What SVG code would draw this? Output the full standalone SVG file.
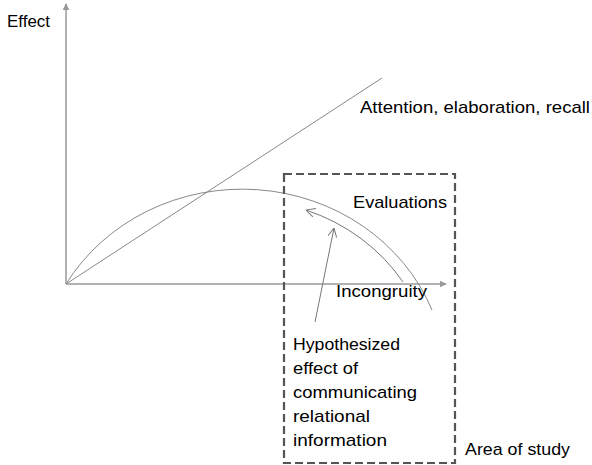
<svg xmlns="http://www.w3.org/2000/svg" width="592" height="465" viewBox="0 0 592 465">
  <style>
    .lbl { font-family: "Liberation Sans", Arial, sans-serif; font-size: 17px; fill: #000; }
    .axis { stroke: #999; stroke-width: 1.5; fill: none; }
    .curve { stroke: #888; stroke-width: 1; fill: none; }
    .thin { stroke: #777; stroke-width: 1; fill: none; }
    .zone { stroke: #555; stroke-width: 2.2; fill: none; stroke-dasharray: 8 4; }
  </style>
  <defs>
    <marker id="axisHead" viewBox="0 0 10 10" refX="9" refY="5" markerWidth="7" markerHeight="7" markerUnits="userSpaceOnUse" orient="auto">
      <path d="M0,0 L10,5 L0,10 Z" fill="#999"/>
    </marker>
    <marker id="openHead" viewBox="0 0 10 10" refX="10" refY="5" markerWidth="9" markerHeight="9" markerUnits="userSpaceOnUse" orient="auto">
      <path d="M0,0 L10,5 L0,10" fill="none" stroke="#777" stroke-width="1.1"/>
    </marker>
  </defs>

  <g id="connectors">
    <!-- axes -->
    <line class="axis" x1="66" y1="284" x2="66" y2="4" marker-end="url(#axisHead)"/>
    <line class="axis" x1="66" y1="284" x2="446" y2="284" marker-end="url(#axisHead)"/>
    <!-- attention / elaboration / recall: linear rise -->
    <line class="curve" x1="66" y1="284" x2="382" y2="78"/>
    <!-- evaluations: inverted U -->
    <path class="curve" d="M66,284 A204,191 0 0 1 432,310"/>
    <!-- hypothesized shift along the curve -->
    <path class="thin" d="M403,282 A192,176 0 0 0 306,210" marker-end="url(#openHead)"/>
    <line class="thin" x1="315" y1="322" x2="334" y2="228" marker-end="url(#openHead)"/>
  </g>

  <g id="area-of-study">
    <rect class="zone" x="284" y="174" width="171" height="289"/>
    <text class="lbl" x="465" y="455" textLength="105" lengthAdjust="spacingAndGlyphs">Area of study</text>
  </g>

  <g id="effect-label">
    <text class="lbl" x="7" y="27" textLength="43" lengthAdjust="spacingAndGlyphs">Effect</text>
  </g>

  <g id="attention-label">
    <text class="lbl" x="360" y="113" textLength="230" lengthAdjust="spacingAndGlyphs">Attention, elaboration, recall</text>
  </g>

  <g id="evaluations-label">
    <text class="lbl" x="353" y="208" textLength="94" lengthAdjust="spacingAndGlyphs">Evaluations</text>
  </g>

  <g id="incongruity-label">
    <text class="lbl" x="336" y="297" textLength="91" lengthAdjust="spacingAndGlyphs">Incongruity</text>
  </g>

  <g id="hypothesis-label">
    <text class="lbl" x="293" y="350" textLength="107" lengthAdjust="spacingAndGlyphs">Hypothesized</text>
    <text class="lbl" x="293" y="374" textLength="65" lengthAdjust="spacingAndGlyphs">effect of</text>
    <text class="lbl" x="293" y="398" textLength="124" lengthAdjust="spacingAndGlyphs">communicating</text>
    <text class="lbl" x="293" y="422" textLength="77" lengthAdjust="spacingAndGlyphs">relational</text>
    <text class="lbl" x="293" y="446" textLength="94" lengthAdjust="spacingAndGlyphs">information</text>
  </g>
</svg>
